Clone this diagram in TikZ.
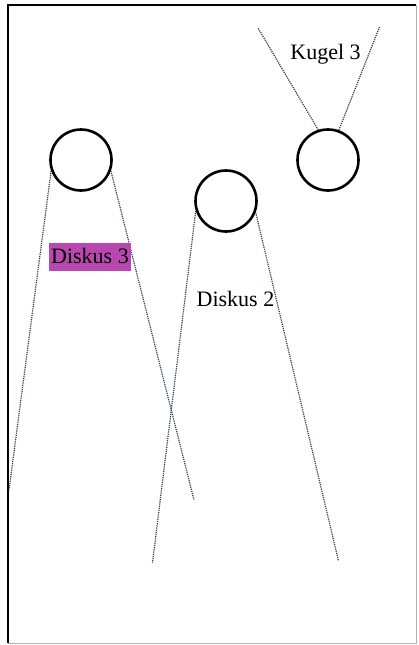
\documentclass[tikz,border=0pt]{standalone}
\usepackage{fontspec}
\setmainfont{Liberation Serif}

\begin{document}
\begin{tikzpicture}
				[x=1pt, y=-1pt,
				disk/.style = {draw, circle, line width=2.6pt,
				minimum size=61pt, inner sep=0pt},
				ray/.style = {densely dotted, line width=1.2pt,
				color={rgb,255:red,40;green,65;blue,85}},
				tag/.style = {anchor=base, inner sep=0pt,
				font=\fontsize{22}{26}\selectfont}]
				\useasboundingbox (0, 0) rectangle (419, 645);
				\draw[line width=2.2pt] (8, 643) -- (8, 5) -- (416, 5);
				\draw[gray!60, line width=0.6pt] (416, 5) -- (416, 643) -- (8, 643);
				\node[disk] (diskus3) at (81, 160) {};
				\node[disk] (diskus2) at (226, 201) {};
				\node[disk] (kugel3) at (328, 160) {};
				\coordinate (d3left) at (9, 490);
				\coordinate (d3right) at (194, 500);
				\coordinate (d2left) at (152.5, 563);
				\coordinate (d2right) at (338.5, 561);
				\coordinate (k3left) at (258, 28);
				\coordinate (k3right) at (379.5, 27);
				\draw[ray] (diskus3.200) -- (d3left);
				\draw[ray] (diskus3.340) -- (d3right);
				\draw[ray] (diskus2.198) -- (d2left);
				\draw[ray] (diskus2.339) -- (d2right);
				\draw[ray] (kugel3.108) -- (k3left);
				\draw[ray] (kugel3.70) -- (k3right);
				\node[tag] (kugeltext) at (325.5, 59) {Kugel 3};
				\node[tag, fill={rgb,255:red,184;green,72;blue,176},
				inner xsep=2.5pt, inner ysep=5pt, text depth=3pt]
				(disk3text) at (90, 263) {Diskus 3};
				\node[tag] (disk2text) at (235.5, 306.5) {Diskus 2};
			\end{tikzpicture}
\end{document}
